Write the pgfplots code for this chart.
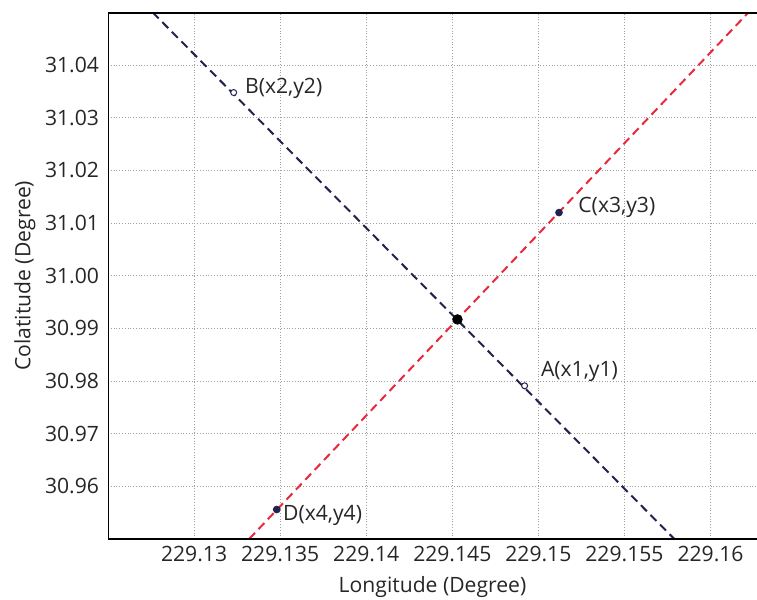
\documentclass[border=0pt]{standalone}
\usepackage{pgfplots}
\pgfplotsset{compat=1.18}
\usepackage{fontspec}
\setmainfont{Open Sans}
\definecolor{navyline}{HTML}{22224E}
\definecolor{redline}{HTML}{E8283C}
\definecolor{gridgray}{HTML}{A0A0A0}
\begin{document}
\begin{tikzpicture}
\begin{axis}[
  width=324.5bp, height=263.25bp, scale only axis,
  xmin=229.125, xmax=229.1627,
  ymin=30.95, ymax=31.05,
  xtick={229.13,229.135,229.14,229.145,229.15,229.155,229.16},
  xticklabels={229.13,229.135,229.14,229.145,229.15,229.155,229.16},
  ytick={30.96,30.97,30.98,30.99,31.00,31.01,31.02,31.03,31.04},
  yticklabels={30.96,30.97,30.98,30.99,31.00,31.01,31.02,31.03,31.04},
  major tick length=0pt,
  grid=major,
  major grid style={gridgray, densely dotted, line width=0.5pt},
  axis line style={draw=none},
  tick label style={font=\fontsize{10.6}{12}\selectfont, text=black!85},
  xticklabel style={yshift=0bp},
  yticklabel style={xshift=-1bp},
  xlabel={Longitude (Degree)},
  ylabel={Colatitude (Degree)},
  label style={font=\fontsize{10.6}{12}\selectfont, text=black!85},
  x label style={at={(axis description cs:0.5,-0.092)}, anchor=center},
  y label style={at={(axis description cs:-0.128,0.5)}, anchor=center, rotate=0},
  clip=true,
]
\addplot[navyline, line width=1pt, dash pattern=on 4.2bp off 2.6bp] coordinates {(229.1276,31.05) (229.1579,30.95)};
\addplot[redline, line width=1pt, dash pattern=on 4.2bp off 2.6bp] coordinates {(229.1332,30.95) (229.1622,31.05)};
\addplot[only marks, mark=*, mark size=1.5bp, mark options={draw=navyline, fill=white, line width=0.5pt}] coordinates {(229.1323,31.0348) (229.1492,30.9791)};
\addplot[only marks, mark=*, mark size=1.7bp, mark options={draw=navyline, fill=navyline}] coordinates {(229.1512,31.012) (229.1348,30.9556)};
\addplot[only marks, mark=*, mark size=2.4bp, mark options={draw=black, fill=black}] coordinates {(229.1453,30.9917)};
\node[anchor=west, inner sep=0pt, font=\fontsize{10.6}{12}\selectfont, text=black!85, xshift=5.5bp, yshift=2.3bp] at (axis cs:229.1323,31.0348) {B(x2,y2)};
\node[anchor=west, inner sep=0pt, font=\fontsize{10.6}{12}\selectfont, text=black!85, xshift=9.5bp, yshift=2.5bp] at (axis cs:229.1512,31.012) {C(x3,y3)};
\node[anchor=west, inner sep=0pt, font=\fontsize{10.6}{12}\selectfont, text=black!85, xshift=8bp, yshift=7bp] at (axis cs:229.1492,30.9791) {A(x1,y1)};
\node[anchor=west, inner sep=0pt, font=\fontsize{10.6}{12}\selectfont, text=black!85, xshift=3bp, yshift=-3bp] at (axis cs:229.1348,30.9556) {D(x4,y4)};
\draw[black, line width=1.1pt] (rel axis cs:1,1) -- (rel axis cs:0,1) -- (rel axis cs:0,0) -- (rel axis cs:1,0);
\end{axis}
\pgfresetboundingbox
\useasboundingbox (-54bp,-30.5bp) rectangle (324.5bp,269.5bp);
\end{tikzpicture}
\end{document}
